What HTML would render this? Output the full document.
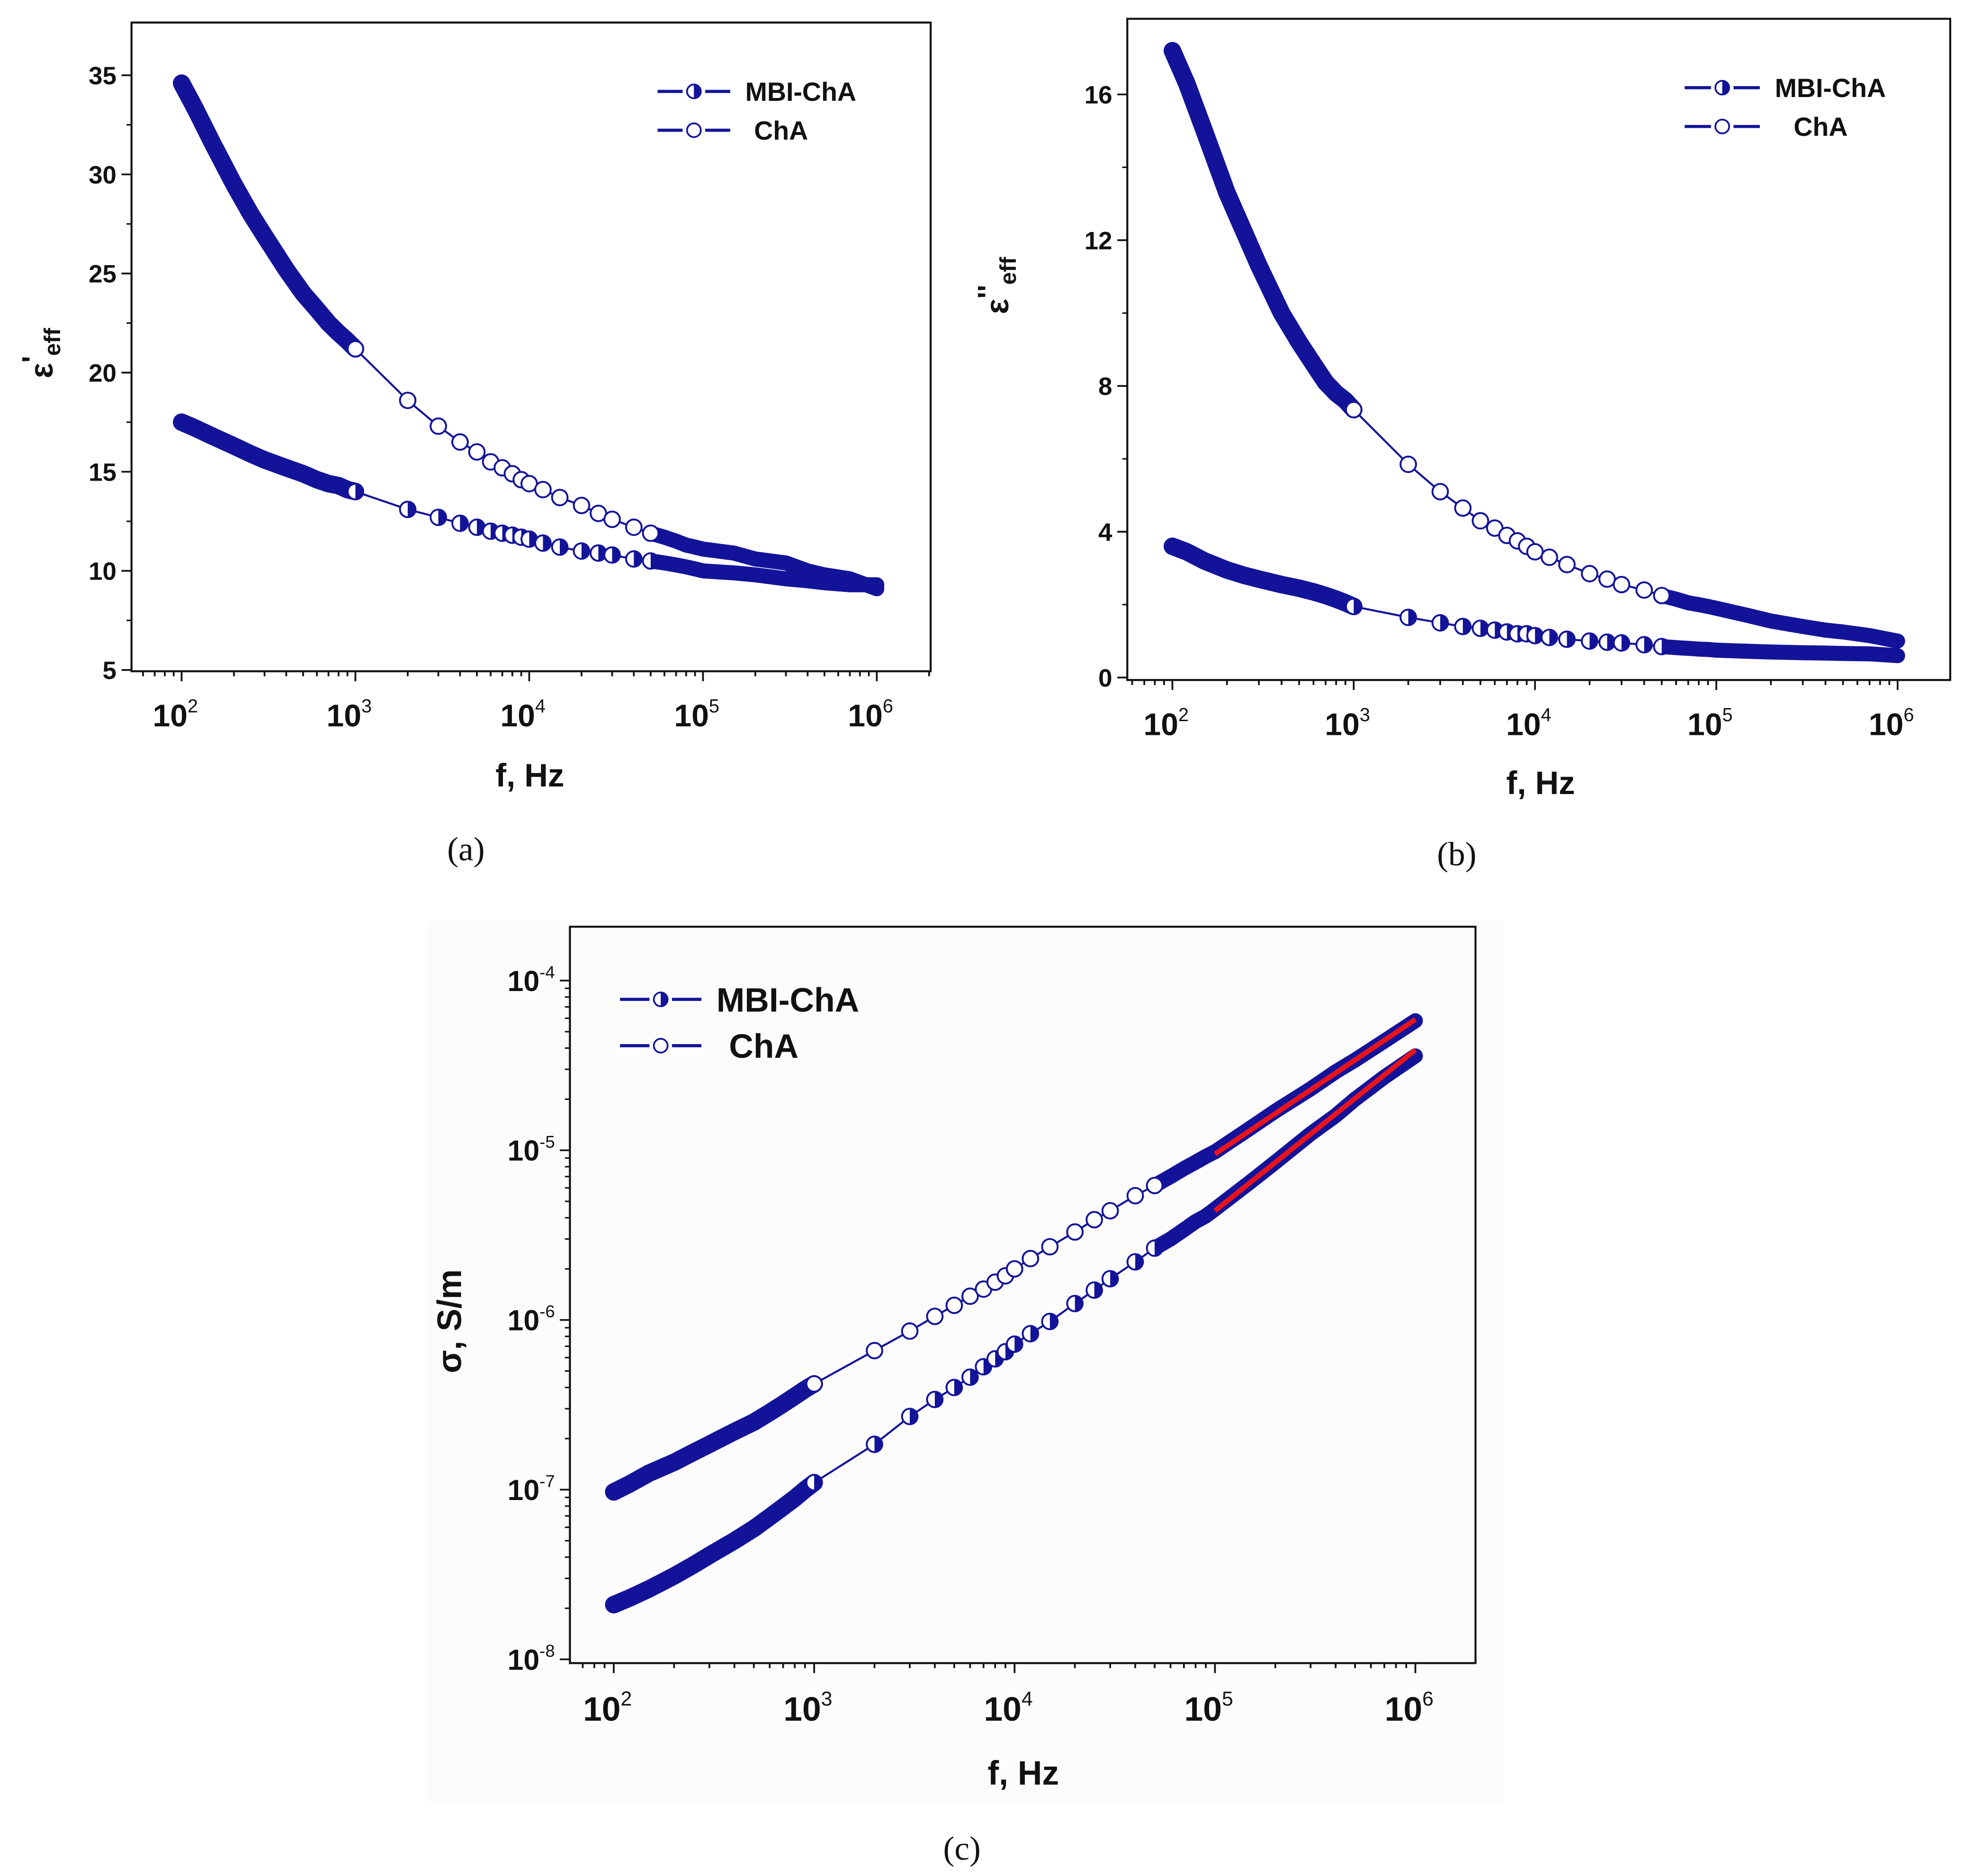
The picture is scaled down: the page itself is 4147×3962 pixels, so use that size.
<!DOCTYPE html>
<html><head><meta charset="utf-8"><style>
html,body{margin:0;padding:0;background:#fff;}
svg{display:block;}
text{font-family:"Liberation Sans",Arial,sans-serif;font-weight:bold;fill:#111;}
.serif{font-family:"Liberation Serif",serif;font-weight:normal;}
</style></head><body>
<svg id="fig" width="4147" height="3962" viewBox="0 0 1568 1498" preserveAspectRatio="none" xmlns="http://www.w3.org/2000/svg">
<rect x="340" y="735" width="860" height="705" fill="#fcfcfc"/>
</svg>
<script>
const freqs=[100,120,150,200,250,300,400,500,600,700,800,900,1000,2000,3000,4000,5000,6000,7000,8000,9000,10000,12000,15000,20000,25000,30000,40000,50000,60000,70000,80000,90000,100000,150000,200000,300000,400000,500000,700000,1000000];
const aChA=[34.6,33.3,31.6,29.5,28.0,26.9,25.2,24.0,23.2,22.5,22.0,21.6,21.2,18.6,17.3,16.5,16.0,15.5,15.2,14.9,14.6,14.4,14.1,13.7,13.3,12.9,12.6,12.2,11.9,11.7,11.5,11.3,11.2,11.1,10.9,10.6,10.4,10.0,9.8,9.6,9.1];
const aMBI=[17.5,17.2,16.8,16.3,15.9,15.6,15.2,14.9,14.6,14.4,14.3,14.1,14.0,13.1,12.7,12.4,12.2,12.0,11.9,11.8,11.7,11.6,11.4,11.2,11.0,10.9,10.8,10.6,10.5,10.4,10.3,10.2,10.1,10.0,9.9,9.8,9.6,9.5,9.4,9.3,9.3];
const bChA=[17.2,16.3,15.0,13.3,12.2,11.3,10.0,9.2,8.6,8.1,7.8,7.6,7.35,5.85,5.1,4.65,4.3,4.1,3.9,3.75,3.6,3.45,3.3,3.1,2.85,2.7,2.55,2.4,2.25,2.15,2.05,2.0,1.95,1.9,1.7,1.55,1.4,1.3,1.25,1.15,1.0];
const bMBI=[3.6,3.45,3.2,2.95,2.8,2.7,2.55,2.45,2.35,2.25,2.15,2.05,1.95,1.65,1.5,1.4,1.35,1.3,1.25,1.2,1.2,1.15,1.1,1.05,1.0,0.97,0.95,0.9,0.85,0.82,0.8,0.78,0.77,0.75,0.72,0.7,0.68,0.67,0.66,0.65,0.6];
const cChA=[9.7e-8,1.08e-7,1.25e-7,1.45e-7,1.66e-7,1.85e-7,2.2e-7,2.5e-7,2.85e-7,3.2e-7,3.55e-7,3.9e-7,4.2e-7,6.6e-7,8.6e-7,1.05e-6,1.22e-6,1.38e-6,1.52e-6,1.67e-6,1.82e-6,2.0e-6,2.3e-6,2.7e-6,3.3e-6,3.9e-6,4.4e-6,5.4e-6,6.2e-6,7.0e-6,7.8e-6,8.5e-6,9.2e-6,9.8e-6,1.35e-5,1.7e-5,2.3e-5,2.9e-5,3.4e-5,4.4e-5,5.8e-5];
const cMBI=[2.1e-8,2.3e-8,2.6e-8,3.1e-8,3.6e-8,4.1e-8,5.0e-8,5.9e-8,6.9e-8,7.9e-8,8.9e-8,1.0e-7,1.1e-7,1.85e-7,2.7e-7,3.4e-7,4.0e-7,4.6e-7,5.3e-7,5.9e-7,6.5e-7,7.2e-7,8.3e-7,9.8e-7,1.25e-6,1.5e-6,1.75e-6,2.2e-6,2.65e-6,3.0e-6,3.4e-6,3.8e-6,4.1e-6,4.5e-6,6.5e-6,8.5e-6,1.25e-5,1.6e-5,2.0e-5,2.7e-5,3.6e-5];
const fitF=[100000,1000000];
const fitChA=[9.5e-6,5.9e-5];
const fitMBI=[4.4e-6,3.9e-5];
const aYTicks=[5,10,15,20,25,30,35];
const bYTicks=[0,4,8,12,16];
const cYTicks=[-8,-7,-6,-5,-4];
const xDecades=[2,3,4,5,6];

const NS="http://www.w3.org/2000/svg";
const svg=document.getElementById('fig');
const NAVY="#13139a";
function el(tag,attrs,parent){const e=document.createElementNS(NS,tag);for(const k in attrs)e.setAttribute(k,attrs[k]);(parent||svg).appendChild(e);return e;}

function chart(cfg){
  const g=el('g',{});
  
  
  const X=f=>cfg.x0+(Math.log10(f)-2)*cfg.xd;
  const Y=v=>cfg.ylog?cfg.y0-(Math.log10(v)-cfg.yref)*cfg.yd:cfg.y0-(v-cfg.yref)*cfg.yd;
  const fr=el('rect',{x:cfg.L,y:cfg.T,width:cfg.R-cfg.L,height:cfg.B-cfg.T,fill:'none',stroke:'#111','stroke-width':1.6},g);
  
  
  for(let d=1;d<=6;d++){for(let m=1;m<=9;m++){const f=m*Math.pow(10,d);const x=X(f);if(x<cfg.L||x>cfg.R)continue;
    el('line',{x1:x,x2:x,y1:cfg.B,y2:cfg.B+(m==1?8:4),stroke:'#111','stroke-width':1.4},g);}}
  xDecades.forEach(d=>{const t=el('text',{x:X(Math.pow(10,d))-5,y:cfg.B+cfg.xlab,'font-size':cfg.xfs,'text-anchor':'middle'},g);
    
    
    t.textContent='10';const s=el('tspan',{dy:-cfg.xfs*0.45,'font-size':cfg.xfs*0.6,'font-weight':'normal'},t);s.textContent=String(d);});
  cfg.yt.forEach((v,i)=>{const val=cfg.ylog?Math.pow(10,v):v;const y=Y(val);
    el('line',{x1:cfg.L-8,x2:cfg.L,y1:y,y2:y,stroke:'#111','stroke-width':1.4},g);
    if(i<cfg.yt.length-1){let ym;if(cfg.ylog){for(let m=2;m<=9;m++){const yy=Y(m*Math.pow(10,v));el('line',{x1:cfg.L-4,x2:cfg.L,y1:yy,y2:yy,stroke:'#111','stroke-width':1.2},g);}}
      else{ym=Y((v+cfg.yt[i+1])/2);el('line',{x1:cfg.L-4,x2:cfg.L,y1:ym,y2:ym,stroke:'#111','stroke-width':1.2},g);}}
    const t=el('text',{x:cfg.L-12,y:y+cfg.fs*0.36,'font-size':cfg.fs,'text-anchor':'end'},g);
    
    
    if(cfg.ylog){t.textContent='10';const s=el('tspan',{dy:-cfg.fs*0.45,'font-size':cfg.fs*0.6,'font-weight':'normal'},t);s.textContent=String(v);}
    else t.textContent=String(v);
  });
  function series(vals,filled,nm){
    const sg=el('g',{},g);
    
    
    const pts=freqs.map((f,i)=>X(f)+','+Y(vals[i])).join(' ');
    el('polyline',{points:pts,fill:'none',stroke:NAVY,'stroke-width':1.6},sg);
    const dense1=freqs.map((f,i)=>f<=1000?X(f)+','+Y(vals[i]):null).filter(Boolean).join(' ');
    const dense2=freqs.map((f,i)=>f>=cfg.denseFrom?X(f)+','+Y(vals[i]):null).filter(Boolean).join(' ');
    el('polyline',{points:dense1,fill:'none',stroke:NAVY,'stroke-width':14,'stroke-linecap':'round','stroke-linejoin':'round'},sg);
    el('polyline',{points:dense2,fill:'none',stroke:NAVY,'stroke-width':12,'stroke-linecap':'round','stroke-linejoin':'round'},sg);
    freqs.forEach((f,i)=>{if(f<1000||f>cfg.denseFrom)return;const x=X(f),y=Y(vals[i]);
      const c=el('circle',{cx:x,cy:y,r:6.2,fill:'#fff',stroke:NAVY,'stroke-width':1.5},sg);
      
      
      if(filled)el('path',{d:`M${x},${y-6.2} A6.2,6.2 0 0 1 ${x},${y+6.2} Z`,fill:NAVY},sg);});
  }
  series(cfg.up,false,'series-cha');
  series(cfg.lo,true,'series-mbi-cha');
  if(cfg.fit){[fitChA,fitMBI].forEach(fv=>{const l=el('line',{x1:X(fitF[0]),y1:Y(fv[0]),x2:X(fitF[1]),y2:Y(fv[1]),stroke:'#e8141c','stroke-width':4},g);
    
    });}
  const lg=cfg.leg;
  [['MBI-ChA',true,0],['ChA',false,1]].forEach(([lab,filled,k])=>{
    const y=lg.y+k*lg.dy;const e=el('g',{},g);
    
    
    el('line',{x1:lg.x,x2:lg.x+lg.w,y1:y,y2:y,stroke:NAVY,'stroke-width':2.5},e);
    el('line',{x1:lg.x+lg.w/2-9,x2:lg.x+lg.w/2+9,y1:y,y2:y,stroke:'#fff','stroke-width':4},e);
    const cx=lg.x+lg.w/2;
    el('circle',{cx:cx,cy:y,r:5.5,fill:'#fff',stroke:NAVY,'stroke-width':1.4},e);
    if(filled)el('path',{d:`M${cx},${y-5.5} A5.5,5.5 0 0 1 ${cx},${y+5.5} Z`,fill:NAVY},e);
    const t=el('text',{x:lg.x+lg.w+(k?lg.ind:12),y:y+lg.fs*0.36,'font-size':lg.fs},e);t.textContent=lab;});
  const xt=el('text',{x:cfg.xt[0],y:cfg.xt[1],'font-size':cfg.tfs,'text-anchor':'middle'},g);
  
  
  xt.textContent='f, Hz';
  const yt=el('text',{transform:`translate(${cfg.yt2[0]},${cfg.yt2[1]}) rotate(-90)`,'font-size':cfg.tfs,'text-anchor':'middle'},g);
  
  
  if(cfg.ylog){yt.textContent='σ, S/m';}
  else{yt.textContent='ε';const p=el('tspan',{dy:-8,'font-size':cfg.tfs*0.9},yt);p.textContent=cfg.prime;
    const s=el('tspan',{dy:14,'font-size':cfg.tfs*0.7},yt);s.textContent='eff';}
  const pl=el('text',{x:cfg.pl[0],y:cfg.pl[1],'font-size':27,'text-anchor':'middle',class:'serif'},g);
  
  
  pl.textContent=cfg.plab;
}

chart({name:'chart-a',L:105,R:743,T:18,B:536,x0:145,xd:138.75,y0:535,yd:15.83,yref:5,ylog:false,yt:aYTicks,
  up:aChA,lo:aMBI,denseFrom:50000,fs:20,xfs:25,xlab:44,tfs:26,xt:[423,628],yt2:[42,282],prime:'\'',pl:[372,687],plab:'(a)',
  leg:{x:525,w:58,y:73,dy:31,fs:21,ind:19}});
chart({name:'chart-b',L:900,R:1557,T:15,B:543,x0:936,xd:144.75,y0:541,yd:29.1,yref:0,ylog:false,yt:bYTicks,
  up:bChA,lo:bMBI,denseFrom:50000,fs:20,xfs:25,xlab:44,tfs:26,xt:[1230,634],yt2:[805,228],prime:'\'\'',pl:[1163,691],plab:'(b)',
  leg:{x:1345,w:60,y:70,dy:31,fs:21,ind:27}});
chart({name:'chart-c',L:455,R:1178,T:740,B:1328,x0:490,xd:160,y0:783,yd:135.5,yref:-4,ylog:true,yt:cYTicks,fit:true,
  up:cChA,lo:cMBI,denseFrom:50000,fs:23,xfs:27,xlab:46,tfs:27,xt:[817,1425],yt2:[368,1055],pl:[768,1485],plab:'(c)',
  leg:{x:495,w:65,y:798,dy:37,fs:27,ind:22}});
</script>
</body></html>
